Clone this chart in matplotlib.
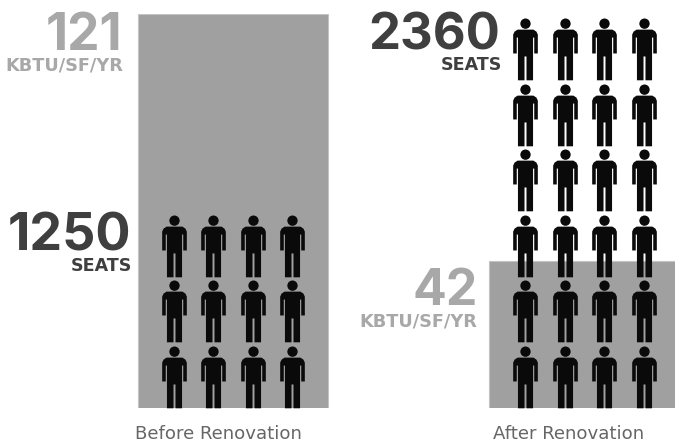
import matplotlib
matplotlib.use('Agg')
import matplotlib.pyplot as plt
import numpy as np
from matplotlib.path import Path

# values
categories = ['Before Renovation', 'After Renovation']
eui_labels = ['121', '42']
eui_drawn = [121, 45]  # the 42 bar is drawn a little taller than scale
seat_labels = ['1250', '2360']
person_rows = [3, 6]
person_cols = 4

W, H = 675, 443
DARK = '#3f3f3f'
GREY = '#a8a8a8'


def person_marker():
    # right half of the figure, y measured down from top of the head
    right = [(0, 11), (8, 11), (11, 13), (12.4, 16), (12.4, 35), (8.8, 35), (8.8, 19),
             (7.6, 19), (7.6, 62), (1, 62), (1, 38), (0, 38)]
    left = [(-x, y) for x, y in right[::-1]]
    pts = np.array(right + left[1:-1] + [right[0]], dtype=float)
    codes = [Path.MOVETO] + [Path.LINETO] * (len(pts) - 2) + [Path.CLOSEPOLY]
    body = Path(np.column_stack([pts[:, 0], 31 - pts[:, 1]]), codes)
    head = Path.circle((0, 31 - 5), 5.2)
    return Path.make_compound_path(body, head)


fig = plt.figure(figsize=(6.75, 4.43), dpi=100)
ax = fig.add_axes([0, (H - 408) / H, 1, 394 / H])
ax.set_xlim(-0.663, 1.258)
ax.set_ylim(0, 121)
ax.axis('off')

ax.bar([0, 1], eui_drawn, width=0.54, color='#a0a0a0', edgecolor='#c4c4c4', linewidth=0.8)

marker = person_marker()
row_h = 20.15
col_w = 0.1124
for i, rows in enumerate(person_rows):
    xs, ys = [], []
    for r in range(rows):
        for c in range(person_cols):
            xs.append(i * 1.0 + (c - 1.5) * col_w)
            ys.append(9.5 + r * row_h)
    ax.scatter(xs, ys, marker=marker, s=1993, color='#0a0a0a', linewidths=0, zorder=3, clip_on=False)


def put(x, y, s, size, color, weight='bold', ha='right', family='Inter'):
    fig.text(x / W, 1 - y / H, s, fontsize=size, color=color, fontweight=weight,
             family=family, ha=ha, va='baseline')


# left panel
put(122, 50, eui_labels[0], 37, GREY)
put(123, 70, 'KBTU/SF/YR', 12.7, GREY, family='DejaVu Sans')
put(131, 250, seat_labels[0], 37.5, DARK)
put(132, 271, 'SEATS', 12.6, DARK, family='DejaVu Sans')

# right panel
put(500, 49, seat_labels[1], 36.5, DARK)
put(502, 70, 'SEATS', 12.6, DARK, family='DejaVu Sans')
put(478, 305, eui_labels[1], 36, GREY)
put(477, 326, 'KBTU/SF/YR', 12.7, GREY, family='DejaVu Sans')

put(218, 439, categories[0], 13.1, '#666666', 'normal', 'center', 'DejaVu Sans')
put(569, 439, categories[1], 13.1, '#666666', 'normal', 'center', 'DejaVu Sans')

fig.savefig('out.png', dpi=100)
